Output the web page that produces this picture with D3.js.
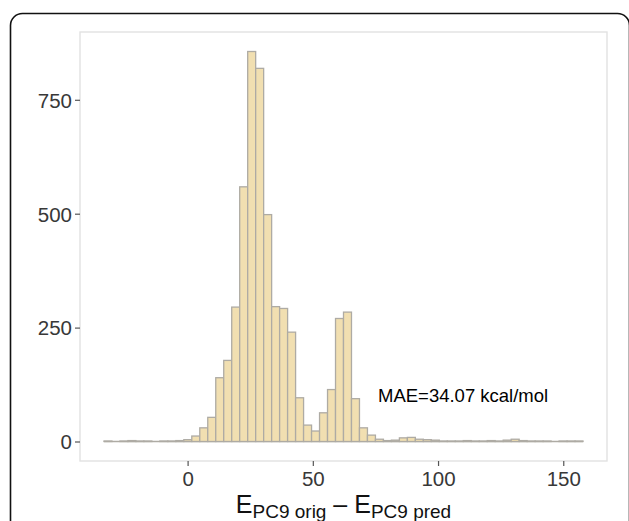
<!DOCTYPE html>
<html>
<head>
<meta charset="utf-8">
<script src="https://cdn.jsdelivr.net/npm/d3@7"></script>
<style>
  html, body { margin: 0; padding: 0; background: #ffffff; }
  svg { display: block; font-family: "Liberation Sans", Arial, Helvetica, sans-serif; }
</style>
</head>
<body>
<svg id="chart" width="629" height="521"></svg>
<script>
// Histogram of E_PC9 orig - E_PC9 pred (kcal/mol), 60 equal-width bins
const binLo = -33.4;
const binHi = 157.9;
const counts = [
  1, 0, 1, 2, 1, 1, 0, 1, 1, 2,
  4, 12, 30, 53, 140, 178, 295, 559, 856, 819,
  498, 296, 292, 240, 96, 36, 23, 63, 114, 270,
  284, 94, 30, 14, 5, 2, 3, 8, 9, 5,
  4, 3, 1, 1, 1, 2, 1, 1, 2, 1,
  3, 5, 2, 1, 1, 1, 0, 1, 1, 1
];
const xTicks = [0, 50, 100, 150];
const yTicks = [0, 250, 500, 750];
const maeLabel = "MAE=34.07 kcal/mol";
const maeAt = { x: 110, y: 100 };

const binW = (binHi - binLo) / counts.length;
const bins = counts.map((c, i) => ({ x0: binLo + i * binW, x1: binLo + (i + 1) * binW, n: c }));

const svg = d3.select("#chart");
const panel = { left: 80, right: 607, top: 32, bottom: 461 };

// outer rounded frame
svg.append("rect")
  .attr("x", 10.5).attr("y", 13.5)
  .attr("width", 619).attr("height", 540)
  .attr("rx", 12).attr("ry", 12)
  .attr("fill", "none").attr("stroke", "#111").attr("stroke-width", 1.6);

// ggplot-style 5% expansion on both axes
const xSpan = binHi - binLo;
const x = d3.scaleLinear()
  .domain([binLo - 0.05 * xSpan, binHi + 0.05 * xSpan])
  .range([panel.left, panel.right]);
const yMax = d3.max(counts);
const y = d3.scaleLinear()
  .domain([-0.05 * yMax, 1.05 * yMax])
  .range([panel.bottom, panel.top]);

// panel background
svg.append("rect")
  .attr("x", panel.left).attr("y", panel.top)
  .attr("width", panel.right - panel.left).attr("height", panel.bottom - panel.top)
  .attr("fill", "#ffffff");

// outline along the zero line so empty bins still show
svg.append("line")
  .attr("x1", x(binLo)).attr("x2", x(binHi))
  .attr("y1", y(0)).attr("y2", y(0))
  .attr("stroke", "#aeaba4").attr("stroke-width", 1.3);

// bars
svg.append("g")
  .selectAll("rect")
  .data(bins.filter(d => d.n > 0))
  .join("rect")
  .attr("x", d => x(d.x0))
  .attr("width", d => x(d.x1) - x(d.x0))
  .attr("y", d => y(d.n))
  .attr("height", d => y(0) - y(d.n))
  .attr("fill", "#f1dfb1")
  .attr("stroke", "#aeaba4")
  .attr("stroke-width", 1.3);

// panel border
svg.append("rect")
  .attr("x", panel.left).attr("y", panel.top)
  .attr("width", panel.right - panel.left).attr("height", panel.bottom - panel.top)
  .attr("fill", "none").attr("stroke", "#e2e2e2").attr("stroke-width", 1.4);

// axes
const xAxis = d3.axisBottom(x).tickValues(xTicks).tickSize(5).tickPadding(4).tickFormat(d3.format("d"));
const yAxis = d3.axisLeft(y).tickValues(yTicks).tickSize(5).tickPadding(3).tickFormat(d3.format("d"));

const gx = svg.append("g").attr("transform", `translate(0,${panel.bottom})`).call(xAxis);
const gy = svg.append("g").attr("transform", `translate(${panel.left},0)`).call(yAxis);
[gx, gy].forEach(g => {
  g.select(".domain").remove();
  g.selectAll(".tick line").attr("stroke", "#555").attr("stroke-width", 1.2);
  g.selectAll(".tick text")
    .attr("fill", "#383838")
    .style("font-size", "20.5px")
    .style("font-family", "'Liberation Sans', Arial, sans-serif");
});
gx.selectAll(".tick text").attr("dy", "0.78em");
gy.selectAll(".tick text").attr("dy", "0.36em");

// x-axis title with subscripts
const title = svg.append("text")
  .attr("x", (panel.left + panel.right) / 2)
  .attr("y", 513)
  .attr("text-anchor", "middle")
  .attr("fill", "#111")
  .style("font-size", "25px");
title.append("tspan").text("E");
title.append("tspan").attr("dy", 5).style("font-size", "19px").text("PC9 orig");
title.append("tspan").attr("dy", -5).text(" \u2013 E");
title.append("tspan").attr("dy", 5).style("font-size", "19px").text("PC9 pred");

// MAE annotation
svg.append("text")
  .attr("x", x(maeAt.x))
  .attr("y", y(maeAt.y))
  .attr("dy", "0.35em")
  .attr("text-anchor", "middle")
  .attr("fill", "#000")
  .style("font-size", "18.5px")
  .text(maeLabel);
</script>
</body>
</html>
